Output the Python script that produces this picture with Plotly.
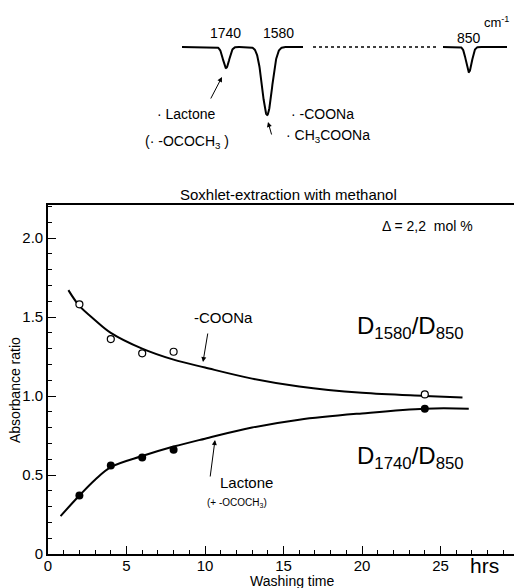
import numpy as np
import plotly.graph_objects as go

# ---------------- data ----------------
# measured points (washing time in hrs)
pt_time = [2, 4, 6, 8, 24]
coona_ratio = [1.58, 1.36, 1.27, 1.28, 1.01]      # D1580/D850 (open circles)
lactone_ratio = [0.37, 0.56, 0.61, 0.66, 0.92]    # D1740/D850 (filled circles)

# smooth curves
coona_curve_t = [1.3, 2, 3, 4, 6, 8, 10, 13, 16, 20, 24, 26.4]
coona_curve_y = [1.67, 1.57, 1.48, 1.40, 1.30, 1.23, 1.18, 1.11, 1.06, 1.02, 1.00, 0.99]
lactone_curve_t = [0.8, 2, 3, 4, 6, 8, 10, 13, 16, 20, 24, 26.8]
lactone_curve_y = [0.24, 0.37, 0.47, 0.55, 0.62, 0.68, 0.73, 0.80, 0.85, 0.89, 0.92, 0.92]

x_tickvals = [0, 5, 10, 15, 20, 25]
x_ticktext = ["0", "5", "10", "15", "20", "25"]
y_tickvals = [0, 0.5, 1.0, 1.5, 2.0]
y_ticktext = ["0", "0.5", "1.0", "1.5", "2.0"]

# schematic IR spectrum (inset): peak wavenumbers, relative depths, widths
peak_wn = [1740, 1580, 850]
peak_depth = [21, 68, 25]
peak_sigma = [12, 19, 11]
seg1_range = [1912, 1440]
seg2_range = [951, 702]

# ---------------- layout helpers ----------------
W, H = 514, 588
ML, MR, MT, MB = 48, 0, 0, 34
PW, PH = W - ML - MR, H - MT - MB


def P(px, py):
    return (px - ML) / PW, (H - MB - py) / PH


FONT = "Liberation Sans, Arial, sans-serif"

fig = go.Figure()

# curves
fig.add_trace(go.Scatter(x=coona_curve_t, y=coona_curve_y, mode="lines",
                         line=dict(color="black", width=2, shape="spline"),
                         showlegend=False, hoverinfo="skip"))
fig.add_trace(go.Scatter(x=lactone_curve_t, y=lactone_curve_y, mode="lines",
                         line=dict(color="black", width=2, shape="spline"),
                         showlegend=False, hoverinfo="skip"))
# points
fig.add_trace(go.Scatter(x=pt_time, y=coona_ratio, mode="markers",
                         marker=dict(symbol="circle", size=7, color="white",
                                     line=dict(color="black", width=1.2)),
                         showlegend=False))
fig.add_trace(go.Scatter(x=pt_time, y=lactone_ratio, mode="markers",
                         marker=dict(symbol="circle", size=8, color="black"),
                         showlegend=False))


# spectrum inset
def spectrum(wn):
    y = np.zeros_like(wn)
    for p, d, s in zip(peak_wn, peak_depth, peak_sigma):
        y = y - d * np.exp(-((wn - p) ** 2) / (2 * s ** 2))
    return y


wn1 = np.linspace(seg1_range[0], seg1_range[1], 400)
wn2 = np.linspace(seg2_range[0], seg2_range[1], 250)
fig.add_trace(go.Scatter(x=wn1, y=spectrum(wn1), xaxis="x2", yaxis="y2", mode="lines",
                         line=dict(color="black", width=2), showlegend=False, hoverinfo="skip"))
fig.add_trace(go.Scatter(x=wn2, y=spectrum(wn2), xaxis="x3", yaxis="y2", mode="lines",
                         line=dict(color="black", width=2), showlegend=False, hoverinfo="skip"))

x_max = (W - ML) / 15.7
y_max = (H - MB - 205) / 158.0

fig.update_layout(
    width=W, height=H,
    margin=dict(l=ML, r=MR, t=MT, b=MB),
    paper_bgcolor="white", plot_bgcolor="white",
    font=dict(family=FONT, color="black", size=14),
    showlegend=False,
    xaxis=dict(domain=[0, 1], range=[0, x_max], showline=True, linecolor="black",
               linewidth=1.6, mirror=True, ticks="inside", ticklen=8, tickwidth=1.2,
               tickcolor="black", tickvals=x_tickvals, ticktext=x_ticktext,
               minor=dict(dtick=1, ticks="inside", ticklen=4, tickwidth=1, tickcolor="black"),
               showgrid=False, zeroline=False, tickfont=dict(size=15),
               ticklabelstandoff=-3),
    yaxis=dict(domain=[0, (H - MB - 205) / PH], range=[0, y_max], showline=True,
               linecolor="black", linewidth=1.6, ticks="inside", ticklen=8, tickwidth=1.2,
               tickcolor="black", tickvals=y_tickvals, ticktext=y_ticktext,
               minor=dict(dtick=0.1, ticks="inside", ticklen=4, tickwidth=1, tickcolor="black"),
               showgrid=False, zeroline=False, tickfont=dict(size=15)),
    xaxis2=dict(domain=[P(182, 0)[0], P(303, 0)[0]], range=seg1_range, anchor="y2",
                visible=False),
    xaxis3=dict(domain=[P(443, 0)[0], P(507, 0)[0]], range=seg2_range, anchor="y2",
                visible=False),
    yaxis2=dict(domain=[P(0, 150)[1], P(0, 10)[1]], range=[-103, 37], anchor="x2",
                visible=False),
)

# dotted break in spectrum
fig.add_shape(type="line", xref="paper", yref="y2", x0=P(313, 0)[0], x1=P(437, 0)[0],
              y0=0, y1=0, line=dict(color="black", width=1.5, dash="dot"))

annos = []


def txt(text, px, py, size=14, **kw):
    x, y = P(px, py)
    d = dict(text=text, x=x, y=y, xref="paper", yref="paper", showarrow=False,
             font=dict(size=size, family=FONT, color="black"),
             xanchor="center", yanchor="middle")
    d.update(kw)
    annos.append(d)


def arrow(hx, hy, tx, ty):
    x, y = P(hx, hy)
    annos.append(dict(text="", x=x, y=y, xref="paper", yref="paper", showarrow=True,
                      ax=tx - hx, ay=ty - hy, arrowhead=2, arrowsize=1, arrowwidth=1,
                      arrowcolor="black"))


# spectrum labels
txt("1740", 225, 33, 14)
txt("1580", 278, 33, 14)
txt("850", 469, 38, 14)
txt("cm<sup>-1</sup>", 496, 22, 13)
txt("· Lactone", 186, 114, 14)
txt("(· -OCOCH<sub>3</sub> )", 187, 142, 14)
txt("· -COONa", 322, 114, 14)
txt("· CH<sub>3</sub>COONa", 328, 136, 14)
arrow(222, 77, 210, 100)
arrow(268, 122, 272, 136)

# main chart labels
txt("Soxhlet-extraction with methanol", 288, 194, 15)
txt("Δ = 2,2  mol %", 427, 226, 14)
txt("D<sub>1580</sub>/D<sub>850</sub>", 410, 327, 24)
txt("D<sub>1740</sub>/D<sub>850</sub>", 410, 457, 24)
txt("-COONa", 223, 317, 15)
arrow(203, 362, 208, 332)
txt("Lactone", 246, 482, 15)
txt("(+ -OCOCH<sub>3</sub>)", 237, 503, 10)
arrow(215, 440, 210, 478)
txt("hrs", 484, 565, 21)
txt("Washing time", 292, 581, 14)
txt("Absorbance ratio", 15, 390, 14, textangle=-90)

fig.update_layout(annotations=annos)

fig.write_html("out.html", config={"displayModeBar": False},
               post_script="document.body.style.margin='0';document.body.style.padding='0';")
